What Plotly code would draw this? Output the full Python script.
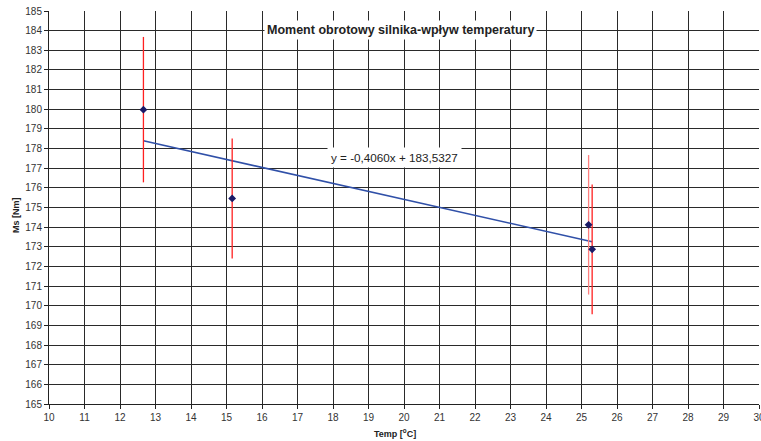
import plotly.graph_objects as go

temp = [12.66, 15.16, 25.20, 25.30]
moment = [179.98, 175.46, 174.12, 172.87]
err = [3.7, 3.05, 3.55, 3.3]
err_colors = ["#FF2020", "#FF2020", "#FF7F7F", "#FF2020"]
slope = -0.4060
intercept = 183.5327
trend_x = [min(temp), max(temp)]
trend_y = [slope * x + intercept for x in trend_x]

title_text = "Moment obrotowy silnika-wpływ temperatury"
eq_text = "y = -0,4060x + 183,5327"
x_title = "Temp [<sup>o</sup>C]"
y_title = "Ms [Nm]"

font = "Liberation Sans, Arial, sans-serif"

fig = go.Figure()
fig.add_trace(go.Scatter(
    x=trend_x, y=trend_y, mode="lines",
    line=dict(color="#3050A8", width=1.6), showlegend=False, hoverinfo="skip"))
# error bars per point (one point's bar is drawn paler in the reference)
for i in range(len(temp)):
    fig.add_trace(go.Scatter(
        x=[temp[i]], y=[moment[i]], mode="markers",
        marker=dict(size=1, color="rgba(0,0,0,0)"),
        error_y=dict(type="data", array=[err[i]], visible=True, color=err_colors[i], thickness=1.3, width=0),
        showlegend=False, hoverinfo="skip"))
fig.add_trace(go.Scatter(
    x=temp, y=moment, mode="markers",
    marker=dict(symbol="diamond", size=6, color="#1A1A66"),
    showlegend=False))

fig.update_layout(
    width=761, height=441,
    margin=dict(l=49, r=2, t=11, b=37, autoexpand=False),
    paper_bgcolor="white", plot_bgcolor="white",
    font=dict(family=font, size=10, color="#333333"),
    xaxis=dict(range=[10, 30], dtick=1, tick0=10, showgrid=True, gridcolor="#2a2a2a", gridwidth=1,
               ticks="outside", ticklen=4, tickcolor="#222", showline=True, linecolor="#222",
               zeroline=False, tickfont=dict(size=10, color="#333"), ticklabeloverflow="allow",
               automargin=False),
    yaxis=dict(range=[165, 185], dtick=1, tick0=165, showgrid=True, gridcolor="#2a2a2a", gridwidth=1,
               ticks="outside", ticklen=4, tickcolor="#222", showline=True, linecolor="#222",
               zeroline=False, tickfont=dict(size=10, color="#333"), automargin=False),
    annotations=[
        dict(text="<b>" + title_text + "</b>", x=400, y=30, showarrow=False, bgcolor="white",
             xanchor="center", yanchor="middle", font=dict(size=12.5, color="#222"), borderpad=2),
        dict(text=eq_text, x=394, y=157, showarrow=False,
             xanchor="center", yanchor="middle", bgcolor="white", font=dict(size=11.7, color="#222"), borderpad=3),
        dict(text="<b>" + x_title + "</b>", x=395, y=433, showarrow=False,
             xanchor="center", yanchor="middle", font=dict(size=9, color="#222")),
        dict(text="<b>" + y_title + "</b>", x=16, y=215, showarrow=False, textangle=-90,
             xanchor="center", yanchor="middle", font=dict(size=9, color="#222")),
    ],
)

# convert pixel-placed annotations to paper coordinates
W, H = 761, 441
l, r, t, b = 49, 2, 11, 37
pw, ph = W - l - r, H - t - b
new_ann = []
for a in fig.layout.annotations:
    a = a.to_plotly_json()
    px, py = a["x"], a["y"]
    a["xref"] = "paper"; a["yref"] = "paper"
    a["x"] = (px - l) / pw
    a["y"] = 1 - (py - t) / ph
    new_ann.append(a)
fig.layout.annotations = new_ann

fig.write_html("out.html")
